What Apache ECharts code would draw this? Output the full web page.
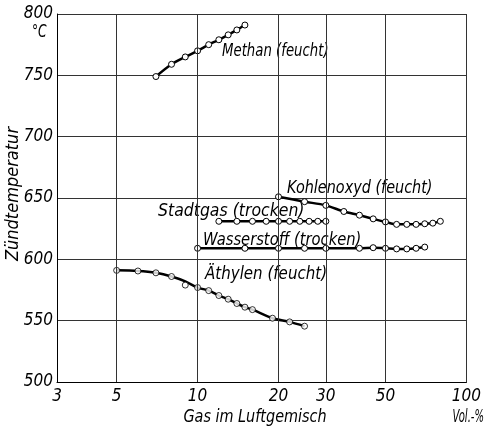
<!DOCTYPE html>
<html>
<head>
<meta charset="utf-8">
<script src="https://cdn.jsdelivr.net/npm/echarts@6/dist/echarts.min.js"></script>
<style>
html,body{margin:0;padding:0;background:#fff;}
#c{width:484px;height:428px;}
</style>
</head>
<body>
<div id="c"></div>
<script>
// ---- data ----
const xTickValues = [3, 5, 10, 20, 30, 50, 100];
const xGridValues = [5, 10, 20, 30, 50, 100];

const methanX = [7, 8, 9, 10, 11, 12, 13, 14, 15];
const methanY = [749, 759, 765, 770, 775, 779, 783, 787, 791];

const kohlenX = [20, 25, 30, 35, 40, 45, 50, 55, 60, 65, 70, 75, 80];
const kohlenY = [651, 647, 644, 639, 636, 633, 630.5, 628.5, 628.5, 628.5, 629, 629.5, 631];

const stadtX = [12, 14, 16, 18, 20, 22, 24, 26, 28, 30];
const stadtY = [631, 631, 631, 631, 631, 631, 631, 631, 631, 631];

const wasserX = [10, 15, 20, 25, 30, 40, 45, 50, 55, 60, 65, 70];
const wasserY = [609, 609, 609, 609, 609, 609, 609.5, 609, 608.5, 608.5, 609, 610];

const aethX = [5, 6, 7, 8, 9, 10, 11, 12, 13, 14, 15, 16, 19, 22, 25];
const aethY = [591, 590.5, 589, 586, 579, 577, 574.5, 570.5, 567.5, 564, 561, 559, 552, 549, 545.5];
const aethCurveY = [591, 590.5, 589, 586, 582, 577, 574.5, 570.5, 567.5, 564, 561, 559, 552, 549, 545.5];

const seriesLabels = ['Methan (feucht)', 'Kohlenoxyd (feucht)', 'Stadtgas (trocken)', 'Wasserstoff (trocken)', 'Äthylen (feucht)'];

// ---- chart ----
const FONT = '"Liberation Sans Narrow", "DejaVu Sans Condensed", "Liberation Sans", sans-serif';
const zip = (xs, ys) => xs.map((x, i) => [x, ys[i]]);

const lineStyle = { color: '#000', width: 2.5 };
const pointStyle = { color: '#fff', borderColor: '#000', borderWidth: 1 };

function lineSeries(xs, ys, showSym) {
  return {
    type: 'line', data: zip(xs, ys), smooth: 0.3,
    symbol: 'circle', symbolSize: 6, showSymbol: showSym,
    lineStyle: lineStyle, itemStyle: pointStyle, silent: true, z: 3
  };
}

const chart = echarts.init(document.getElementById('c'), null, { renderer: 'canvas' });

const txt = (text, x, y, sx, opts) => Object.assign({
  type: 'text', x: x, y: y, scaleX: sx,
  style: Object.assign({ text: text, font: 'italic 18px ' + FONT, fill: '#000', textVerticalAlign: 'middle' }, opts || {})
});

chart.setOption({
  animation: false,
  grid: { left: 57, right: 13, top: 14, bottom: 46 },
  xAxis: {
    type: 'log', logBase: 10, min: 3, max: 100,
    axisLine: { show: true, lineStyle: { color: '#000', width: 1 } },
    axisTick: { show: false },
    splitLine: { show: false },
    minorSplitLine: { show: false },
    axisLabel: {
      customValues: xTickValues, color: '#000', fontStyle: 'italic',
      fontFamily: FONT, fontSize: 17, margin: 6
    }
  },
  yAxis: {
    type: 'value', min: 500, max: 800, interval: 50,
    axisLine: { show: true, lineStyle: { color: '#000', width: 1 } },
    axisTick: { show: false },
    splitLine: { show: true, lineStyle: { color: '#333', width: 1 } },
    axisLabel: { color: '#000', fontStyle: 'italic', fontFamily: FONT, fontSize: 17, margin: 4 }
  },
  series: [
    {
      type: 'line', data: [], silent: true,
      markLine: {
        silent: true, symbol: ['none', 'none'], label: { show: false },
        lineStyle: { color: '#333', width: 1, type: 'solid' },
        data: xGridValues.map(v => ({ xAxis: v }))
      }
    },
    lineSeries(methanX, methanY, true),
    lineSeries(kohlenX, kohlenY, true),
    lineSeries(stadtX, stadtY, true),
    lineSeries(wasserX, wasserY, true),
    lineSeries(aethX, aethCurveY, false),
    {
      type: 'scatter', data: zip(aethX, aethY), symbol: 'circle', symbolSize: 6,
      itemStyle: pointStyle, silent: true, z: 4
    }
  ],
  graphic: [
    txt(seriesLabels[0], 222, 51, 0.82),
    txt(seriesLabels[1], 287, 188, 0.89),
    txt(seriesLabels[2], 158, 211, 0.97),
    txt(seriesLabels[3], 203, 240, 0.91),
    txt(seriesLabels[4], 205, 274, 0.93),
    txt('°C', 32, 33, 0.8, { font: 'italic 17px ' + FONT }),
    txt('Gas im Luftgemisch', 255, 417, 0.89, { textAlign: 'center' }),
    txt('Vol.-%', 484, 417, 0.62, { textAlign: 'right' }),
    { type: 'text', x: 13, y: 194, rotation: Math.PI / 2,
      style: { text: 'Zündtemperatur', font: 'italic 18px ' + FONT, fill: '#000',
               textAlign: 'center', textVerticalAlign: 'middle' } }
  ]
});
</script>
</body>
</html>
